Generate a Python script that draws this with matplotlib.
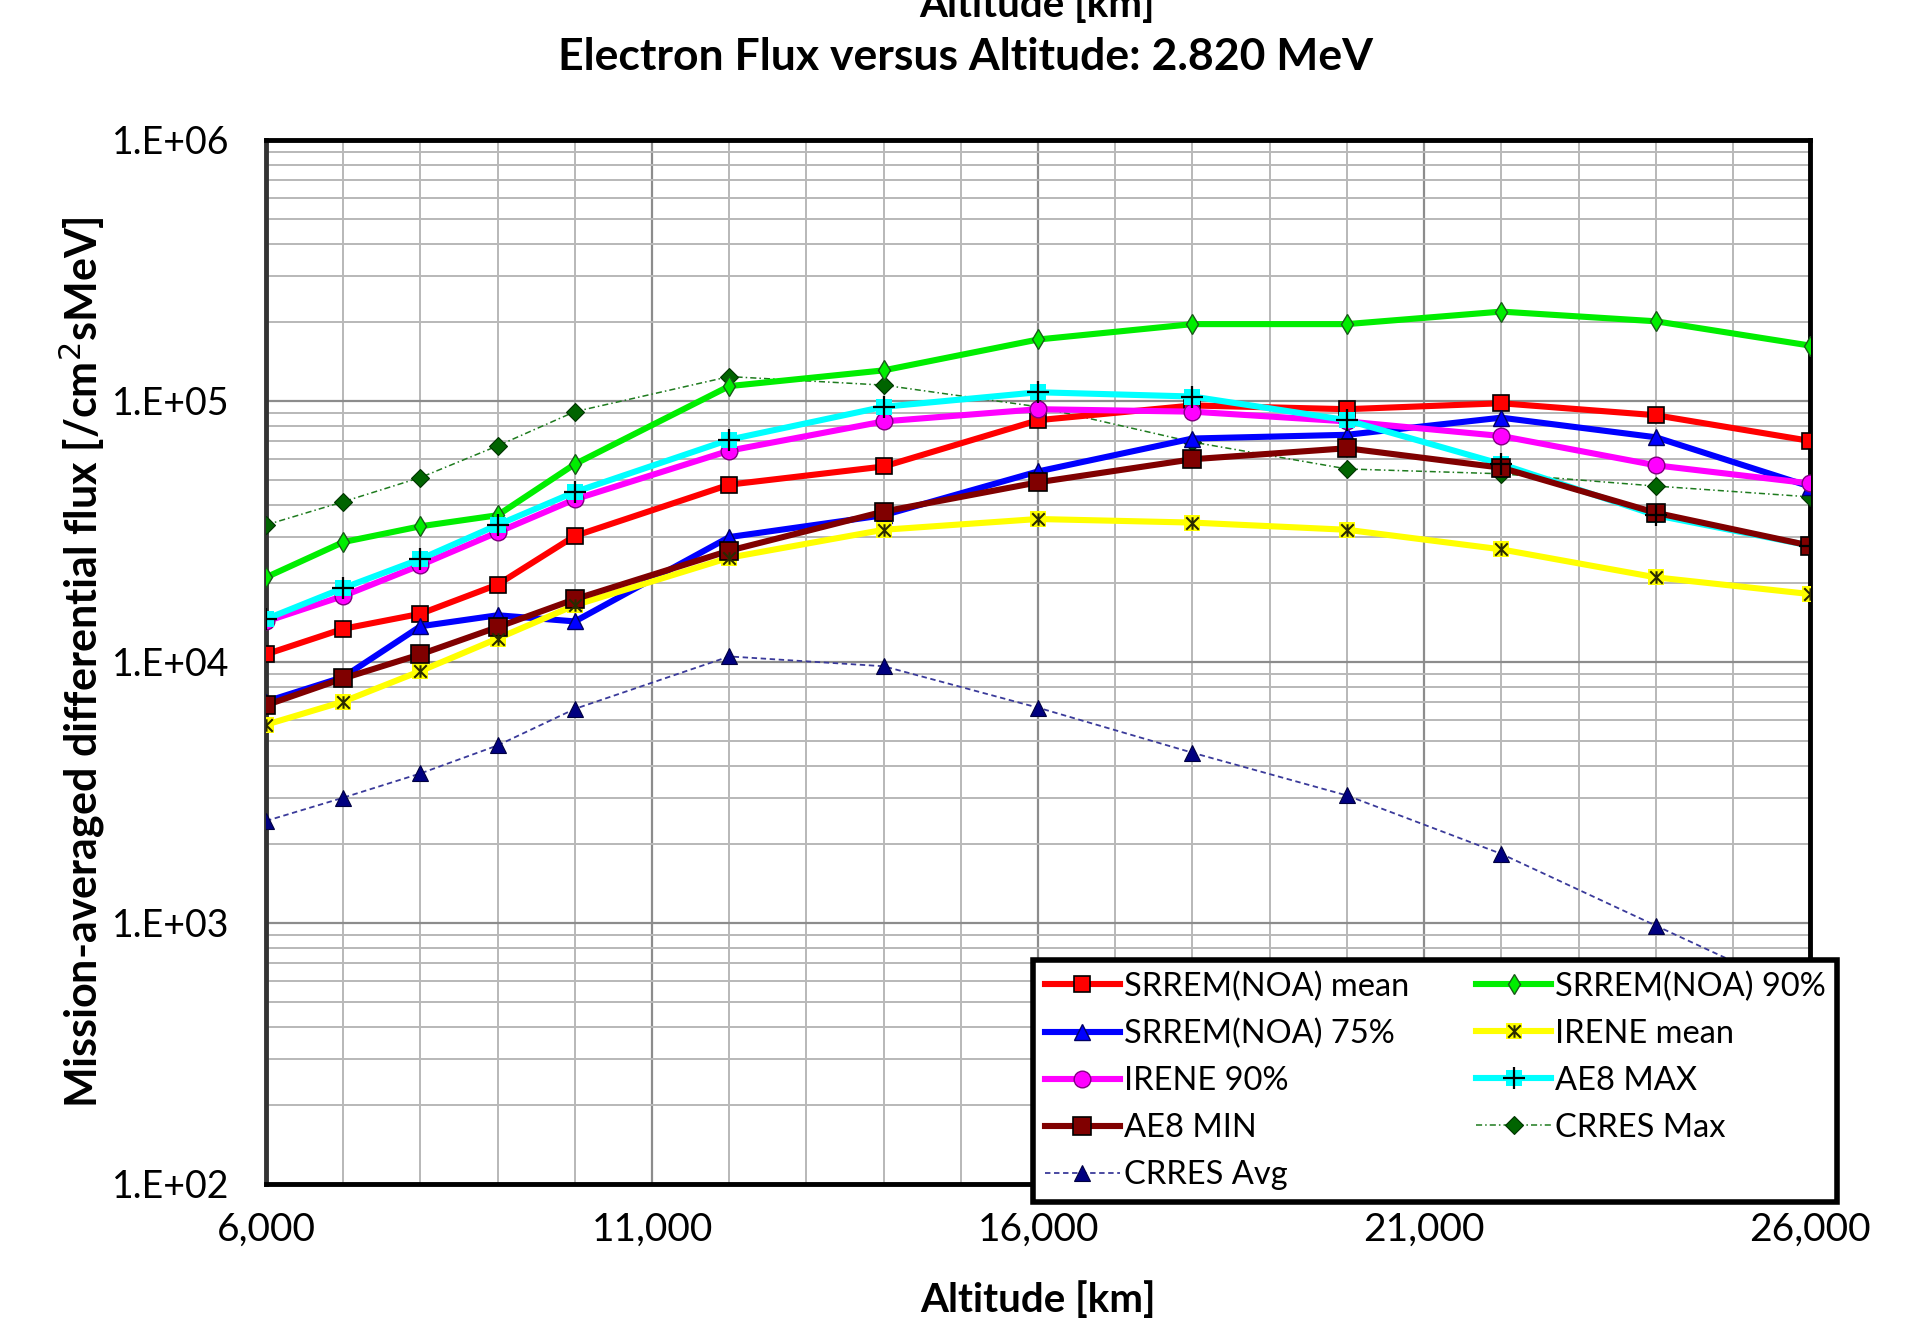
import matplotlib
matplotlib.use("Agg")
import matplotlib.pyplot as plt
from matplotlib.path import Path
from matplotlib.ticker import FixedLocator, NullFormatter

plt.rcParams['font.family'] = ['Lato', 'DejaVu Sans']

altitude = [6000, 7000, 8000, 9000, 10000, 12000, 14000, 16000, 18000, 20000, 22000, 24000, 26000]

srrem_mean = [10700, 13400, 15300, 19800, 30400, 47800, 56100, 84400, 96100, 93000, 98000, 88200, 70300]
srrem_90 = [21100, 28800, 33100, 36500, 57300, 114000, 131000, 172000, 197000, 197000, 220000, 202000, 163000]
srrem_75 = [7050, 8750, 13700, 15100, 14300, 30100, 36500, 53700, 71800, 74200, 86300, 72600, 47000]
irene_mean = [5750, 7050, 9230, 12300, 16500, 25100, 32100, 35300, 34200, 32100, 27000, 21100, 18200]
irene_90 = [14300, 17900, 23500, 31400, 42000, 64500, 83500, 93000, 91000, 83500, 73400, 56700, 48300]
ae8_max = [14600, 19200, 24800, 33500, 44800, 71100, 95000, 108000, 104000, 84400, 57300, 36500, 27900]
ae8_min = [6830, 8650, 10700, 13600, 17400, 26700, 37700, 48800, 59800, 65900, 55500, 37300, 27900]
crres_max = [33500, 41100, 50900, 67300, 91000, 124000, 115000, 95000, 69600, 54900, 52600, 47200, 42900]
crres_avg = [2460, 3020, 3740, 4790, 6610, 10500, 9630, 6680, 4490, 3080, 1840, 977, 520]

x_ticks = [6000, 11000, 16000, 21000, 26000]
x_tick_labels = ["6,000", "11,000", "16,000", "21,000", "26,000"]
y_ticks = [1e2, 1e3, 1e4, 1e5, 1e6]
y_tick_labels = ["1.E+02", "1.E+03", "1.E+04", "1.E+05", "1.E+06"]

# Excel-like "star" marker: X plus vertical bar
star_path = Path([(-1, -1), (1, 1), (-1, 1), (1, -1), (0, -1), (0, 1)],
                 [Path.MOVETO, Path.LINETO, Path.MOVETO, Path.LINETO, Path.MOVETO, Path.LINETO])

fig = plt.figure(figsize=(19.1, 13.18), dpi=100)
ax = fig.add_axes([0.1393, 0.1017, 0.8084, 0.7921])

ax.set_yscale('log')
ax.set_xlim(6000, 26000)
ax.set_ylim(1e2, 1e6)

ax.set_xticks(x_ticks)
ax.set_xticklabels(x_tick_labels, fontsize=28)
ax.xaxis.set_minor_locator(FixedLocator(list(range(6000, 26001, 1000))))
ax.set_yticks(y_ticks)
ax.set_yticklabels(y_tick_labels, fontsize=27)
ax.yaxis.set_minor_formatter(NullFormatter())
ax.grid(True, which='minor', axis='both', color='#b8b8b8', linewidth=1.4, zorder=0)
ax.grid(True, which='major', axis='both', color='#8c8c8c', linewidth=1.6, zorder=0)
ax.tick_params(which='both', length=0)
ax.tick_params(axis='y', pad=26)
ax.tick_params(axis='x', pad=20)
ax.set_axisbelow(True)

for s in ax.spines.values():
    s.set_linewidth(3.5)
    s.set_color('black')
ax.spines['left'].set_color('#333333')

lw = 4.4
h_mean = ax.plot(altitude, srrem_mean, color='#ff0000', lw=lw, marker='s', ms=12,
                 mfc='#ff0000', mec='black', mew=1.2, zorder=5)[0]
h_90 = ax.plot(altitude, srrem_90, color='#00ee00', lw=lw, marker='d', ms=10,
               mfc='#00ee00', mec='#1a5a1a', mew=1.0, zorder=5)[0]
h_75 = ax.plot(altitude, srrem_75, color='#0000ff', lw=lw, marker='^', ms=12,
               mfc='#0000ff', mec='#000066', mew=1.0, zorder=5)[0]
h_im = ax.plot(altitude, irene_mean, color='#ffff00', lw=lw, marker='s', ms=12,
               mfc='#ffff00', mec='#ffff00', mew=0, zorder=5)[0]
h_im2 = ax.plot(altitude, irene_mean, ls='none', marker=star_path, ms=9,
                mec='#2a2a00', mew=1.5, zorder=6)[0]
h_i90 = ax.plot(altitude, irene_90, color='#ff00ff', lw=lw, marker='o', ms=12,
                mfc='#ff00ff', mec='#800080', mew=1.0, zorder=5)[0]
h_amax = ax.plot(altitude, ae8_max, color='#00ffff', lw=lw, marker='s', ms=12,
                 mfc='#00ffff', mec='#00ffff', mew=0, zorder=5)[0]
h_amax2 = ax.plot(altitude, ae8_max, ls='none', marker='+', ms=16,
                  mec='black', mew=1.6, zorder=6)[0]
h_amin = ax.plot(altitude, ae8_min, color='#800000', lw=lw, marker='s', ms=13,
                 mfc='#800000', mec='black', mew=1.2, zorder=5)[0]
h_cmax = ax.plot(altitude, crres_max, color='#1e7b1e', lw=1.1, ls=(0, (4, 2, 1, 2)), marker='D', ms=9,
                 mfc='#006400', mec='#003300', mew=0.8, zorder=4)[0]
h_cavg = ax.plot(altitude, crres_avg, color='#3a3a9a', lw=1.3, ls=(0, (3, 2)), marker='^', ms=11,
                 mfc='#000080', mec='#000040', mew=0.8, zorder=4)[0]

ax.set_xlabel('Altitude [km]', fontsize=29, fontweight='bold', labelpad=24)
ax.set_ylabel('Mission-averaged differential flux [/cm$^2$sMeV]', fontsize=31,
              fontweight='bold', labelpad=4)

fig.text(0.5057, 0.957, 'Electron Flux versus Altitude: 2.820 MeV', fontsize=32,
         fontweight='bold', ha='center', va='center')
fig.text(0.5427, 0.982, 'Altitude [km]', fontsize=29, fontweight='bold',
         ha='center', va='bottom')

handles = [h_mean, h_75, h_i90, h_amin, h_cavg,
           h_90, (h_im, h_im2), (h_amax, h_amax2), h_cmax]
labels = ['SRREM(NOA) mean', 'SRREM(NOA) 75%', 'IRENE 90%', 'AE8 MIN', 'CRRES Avg',
          'SRREM(NOA) 90%', 'IRENE mean', 'AE8 MAX', 'CRRES Max']

leg = fig.legend(handles=handles, labels=labels, loc='upper left',
                 bbox_to_anchor=(0.541, 0.0804, 0.421, 0.1912),
                 mode='expand', ncol=2, fontsize=23.5, frameon=True, fancybox=False,
                 edgecolor='black', framealpha=1.0, borderaxespad=0.0, handlelength=2.3,
                 handletextpad=0.12, labelspacing=0.52, columnspacing=0.4, borderpad=0.35)
leg.get_frame().set_linewidth(4)

fig.savefig('out.png', dpi=100)
